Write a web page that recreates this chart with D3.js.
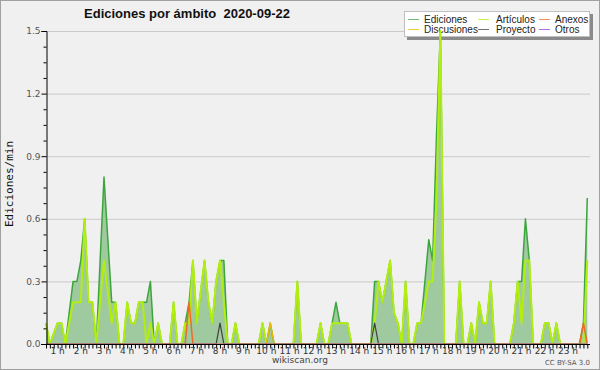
<!DOCTYPE html>
<html>
<head>
<meta charset="utf-8">
<script src="https://cdn.jsdelivr.net/npm/d3@7"></script>
<style>
  body { margin: 0; background: #f0f0f0; }
  svg { display: block; font-family: "DejaVu Sans", sans-serif; }
</style>
</head>
<body>
<svg id="chart"></svg>
<script>
// Edits per minute, one value per 10-minute slot (slot 0 = start of the day)
const ediciones = [
  0.1, 0, 0.05, 0.1, 0.1, 0, 0.15, 0.3, 0.3, 0.4,
  0.6, 0.2, 0.2, 0, 0.4, 0.8, 0.5, 0.2, 0.2, 0,
  0, 0.2, 0.1, 0.1, 0.2, 0.2, 0.2, 0.3, 0, 0.1,
  0, 0, 0, 0.2, 0, 0, 0.1, 0.2, 0.4, 0.1,
  0.25, 0.4, 0.2, 0.1, 0.3, 0.4, 0.4, 0, 0, 0.1,
  0, 0, 0, 0, 0, 0, 0.1, 0, 0.1, 0,
  0, 0, 0, 0, 0, 0.3, 0, 0, 0, 0,
  0, 0.1, 0, 0, 0.1, 0.2, 0.1, 0.1, 0.1, 0,
  0, 0, 0, 0, 0, 0.3, 0.3, 0.2, 0.3, 0.4,
  0.15, 0.1, 0, 0.3, 0, 0, 0.1, 0.1, 0.3, 0.5,
  0.4, 1.0, 1.5, 0, 0, 0, 0, 0.3, 0, 0,
  0.1, 0, 0.2, 0.1, 0.1, 0.3, 0, 0, 0, 0,
  0, 0.1, 0.3, 0.3, 0.6, 0.4, 0, 0, 0, 0.1,
  0.1, 0, 0.1, 0, 0, 0, 0, 0, 0, 0.1,
  0.7
];
const articulos = [
  0.1, 0, 0.05, 0.1, 0.1, 0, 0.1, 0.2, 0.2, 0.2,
  0.6, 0.2, 0.2, 0, 0.2, 0.4, 0.25, 0.1, 0.2, 0,
  0, 0.2, 0.1, 0.1, 0.2, 0.2, 0, 0.1, 0, 0.1,
  0, 0, 0, 0.2, 0, 0, 0.1, 0.1, 0.4, 0.1,
  0.25, 0.4, 0.2, 0.1, 0.3, 0.4, 0.2, 0, 0, 0.1,
  0, 0, 0, 0, 0, 0, 0.1, 0, 0, 0,
  0, 0, 0, 0, 0, 0.3, 0, 0, 0, 0,
  0, 0.1, 0, 0, 0.1, 0.1, 0.1, 0.1, 0.1, 0,
  0, 0, 0, 0, 0, 0.1, 0.3, 0.2, 0.3, 0.4,
  0.15, 0.1, 0, 0.3, 0, 0, 0.1, 0.1, 0.2, 0.3,
  0.3, 0.7, 1.5, 0, 0, 0, 0, 0.3, 0, 0,
  0.1, 0, 0.2, 0.1, 0.1, 0.3, 0, 0, 0, 0,
  0, 0.1, 0.3, 0.1, 0.4, 0.4, 0, 0, 0, 0.1,
  0.1, 0, 0.1, 0, 0, 0, 0, 0, 0, 0,
  0.4
];
const anexos = [
  0, 0, 0, 0, 0, 0, 0, 0, 0, 0,
  0, 0, 0, 0, 0, 0, 0, 0, 0, 0,
  0, 0, 0, 0, 0, 0, 0, 0, 0, 0,
  0, 0, 0, 0, 0, 0, 0, 0.2, 0, 0,
  0, 0, 0, 0, 0, 0, 0, 0, 0, 0,
  0, 0, 0, 0, 0, 0, 0, 0, 0, 0,
  0, 0, 0, 0, 0, 0, 0, 0, 0, 0,
  0, 0, 0, 0, 0, 0, 0, 0, 0, 0,
  0, 0, 0, 0, 0, 0, 0, 0, 0, 0,
  0, 0, 0, 0, 0, 0, 0, 0, 0, 0,
  0, 0, 0, 0, 0, 0, 0, 0, 0, 0,
  0, 0, 0, 0, 0, 0, 0, 0, 0, 0,
  0, 0, 0, 0, 0, 0, 0, 0, 0, 0,
  0, 0, 0, 0, 0, 0, 0, 0, 0, 0.1,
  0
];
const discusiones = [
  0, 0, 0, 0, 0, 0, 0, 0, 0, 0,
  0, 0, 0, 0, 0, 0, 0, 0, 0, 0,
  0, 0, 0, 0, 0, 0, 0, 0, 0, 0,
  0, 0, 0, 0, 0, 0, 0, 0, 0, 0,
  0, 0, 0, 0, 0, 0, 0, 0, 0, 0,
  0, 0, 0, 0, 0, 0, 0, 0, 0.1, 0,
  0, 0, 0, 0, 0, 0, 0, 0, 0, 0,
  0, 0, 0, 0, 0, 0, 0, 0, 0, 0,
  0, 0, 0, 0, 0, 0, 0, 0, 0, 0,
  0, 0, 0, 0, 0, 0, 0, 0, 0, 0,
  0, 0, 0, 0, 0, 0, 0, 0, 0, 0,
  0, 0, 0, 0, 0, 0, 0, 0, 0, 0,
  0, 0, 0, 0, 0, 0, 0, 0, 0, 0,
  0, 0, 0, 0, 0, 0, 0, 0, 0, 0,
  0
];
const proyecto = [
  0, 0, 0, 0, 0, 0, 0, 0, 0, 0,
  0, 0, 0, 0, 0, 0, 0, 0, 0, 0,
  0, 0, 0, 0, 0, 0, 0, 0, 0, 0,
  0, 0, 0, 0, 0, 0, 0, 0, 0, 0,
  0, 0, 0, 0, 0, 0.1, 0, 0, 0, 0,
  0, 0, 0, 0, 0, 0, 0, 0, 0, 0,
  0, 0, 0, 0, 0, 0, 0, 0, 0, 0,
  0, 0, 0, 0, 0, 0, 0, 0, 0, 0,
  0, 0, 0, 0, 0, 0.1, 0, 0, 0, 0,
  0, 0, 0, 0, 0, 0, 0, 0, 0, 0,
  0, 0, 0, 0, 0, 0, 0, 0, 0, 0,
  0, 0, 0, 0, 0, 0, 0, 0, 0, 0,
  0, 0, 0, 0, 0, 0, 0, 0, 0, 0,
  0, 0, 0, 0, 0, 0, 0, 0, 0, 0,
  0
];
const otros = [
  0, 0, 0, 0, 0, 0, 0, 0, 0, 0,
  0, 0, 0, 0, 0, 0, 0, 0, 0, 0,
  0, 0, 0, 0, 0, 0, 0, 0, 0, 0,
  0, 0, 0, 0, 0, 0, 0, 0, 0, 0,
  0, 0, 0, 0, 0, 0, 0, 0, 0, 0,
  0, 0, 0, 0, 0, 0, 0, 0, 0, 0,
  0, 0, 0, 0, 0, 0, 0, 0, 0, 0,
  0, 0, 0, 0, 0, 0, 0, 0, 0, 0,
  0, 0, 0, 0, 0, 0, 0, 0, 0, 0,
  0, 0, 0, 0, 0, 0, 0, 0, 0, 0,
  0, 0, 0, 0, 0, 0, 0, 0, 0, 0,
  0, 0, 0, 0, 0, 0, 0, 0, 0, 0,
  0, 0, 0, 0, 0, 0, 0, 0, 0, 0,
  0, 0, 0, 0, 0, 0, 0, 0, 0, 0,
  0
];

const hourLabels = ["1 h", "2 h", "3 h", "4 h", "5 h", "6 h", "7 h", "8 h", "9 h", "10 h",
  "11 h", "12 h", "13 h", "14 h", "15 h", "16 h", "17 h", "18 h", "19 h", "20 h",
  "21 h", "22 h", "23 h"];
const yMajor = [0, 0.3, 0.6, 0.9, 1.2, 1.5];
const yMinor = [0.075, 0.15, 0.225, 0.375, 0.45, 0.525, 0.675, 0.75, 0.825,
  0.975, 1.05, 1.125, 1.275, 1.35, 1.425];

const seriesNames = ["Ediciones", "Artículos", "Anexos", "Discusiones", "Proyecto", "Otros"];
const seriesColors = ["#3ca63c", "#b2ee10", "#ef6a24", "#efb800", "#404040", "#9040e0"];

const width = 600;
const height = 370;

const svg = d3.select("#chart")
  .attr("width", width)
  .attr("height", height);

svg.append("rect")
  .attr("x", 0.5).attr("y", 0.5)
  .attr("width", width - 1).attr("height", height - 1)
  .attr("fill", "#f0f0f0")
  .attr("stroke", "#a0a0a0");

// Scales: one step per 10 minutes
const x = d3.scaleLinear().domain([0, 140.7]).range([46, 590]);
const y = d3.scaleLinear().domain([0, 1.5]).range([344, 31]);

// Grid
svg.append("g")
  .selectAll("line")
  .data(yMajor.slice(1))
  .enter()
  .append("line")
  .attr("x1", x(0)).attr("x2", x(140.7))
  .attr("y1", d => y(d) + 0.5).attr("y2", d => y(d) + 0.5)
  .attr("stroke", "#cacaca");

// Legend (drawn before the data, the peak runs over it)
const legend = svg.append("g").attr("transform", "translate(404,11)");
legend.append("rect")
  .attr("x", 3).attr("y", 3).attr("width", 186).attr("height", 26)
  .attr("fill", "#8a8a8a");
legend.append("rect")
  .attr("x", 0.5).attr("y", 0.5).attr("width", 185).attr("height", 25)
  .attr("fill", "#ffffff")
  .attr("stroke", "#c0c0c0");

const legendCols = [4, 74, 135];
const legendItems = legend.selectAll(".item")
  .data(seriesNames)
  .enter()
  .append("g")
  .attr("class", "item")
  .attr("transform", (d, i) => `translate(${legendCols[i % 3]},${i < 3 ? 8 : 18})`);

legendItems.append("line")
  .attr("x1", 0).attr("x2", 11)
  .attr("y1", 0.5).attr("y2", 0.5)
  .attr("stroke", (d, i) => seriesColors[i])
  .attr("stroke-opacity", 0.75);

legendItems.append("text")
  .attr("x", (d, i) => i % 3 === 1 ? 18 : 16)
  .attr("y", 4)
  .attr("font-size", "10px")
  .attr("font-family", "Liberation Sans, sans-serif")
  .attr("fill", "#222")
  .text(d => d);

// Clip the data just above the x axis
svg.append("clipPath")
  .attr("id", "plotClip")
  .append("rect")
  .attr("x", 44).attr("y", 20)
  .attr("width", 548).attr("height", 323.6);

const plot = svg.append("g").attr("clip-path", "url(#plotClip)");

plot.append("path")
  .datum(ediciones)
  .attr("fill", "#9fc99f")
  .attr("d", d3.area()
    .x((d, i) => x(i))
    .y0(y(0))
    .y1(d => y(d)));

const line = d3.line()
  .x((d, i) => x(i))
  .y(d => y(d));

const allSeries = [ediciones, articulos, discusiones, anexos, proyecto, otros];
const drawColors = [seriesColors[0], seriesColors[1], seriesColors[3], seriesColors[2], seriesColors[4], seriesColors[5]];
const drawWidths = [1.5, 2, 1.5, 1.5, 1.2, 1.2];

plot.selectAll(".series")
  .data(allSeries)
  .enter()
  .append("path")
  .attr("class", "series")
  .attr("fill", "none")
  .attr("stroke", (d, i) => drawColors[i])
  .attr("stroke-width", (d, i) => drawWidths[i])
  .attr("stroke-linejoin", "round")
  .attr("d", d => line(d));

// Y axis
const yAxis = svg.append("g")
  .attr("transform", "translate(46.5,0)")
  .call(d3.axisLeft(y)
    .tickValues(yMajor)
    .tickFormat(d3.format(".1f"))
    .tickSize(5)
    .tickPadding(1));
yAxis.select(".domain").attr("stroke", "#000");
yAxis.selectAll(".tick line").attr("stroke", "#000");
yAxis.selectAll(".tick text")
  .attr("font-size", "9px")
  .attr("font-family", "DejaVu Sans, sans-serif")
  .attr("fill", "#555");

svg.append("g")
  .attr("transform", "translate(46.5,0)")
  .call(d3.axisLeft(y).tickValues(yMinor).tickSize(3).tickFormat(""))
  .call(g => g.select(".domain").remove())
  .selectAll(".tick line").attr("stroke", "#000");

// X axis
const xAxis = svg.append("g")
  .attr("transform", "translate(0,344.5)")
  .call(d3.axisBottom(x)
    .tickValues(d3.range(0, 141))
    .tickSize(4)
    .tickFormat(""));
xAxis.select(".domain").attr("stroke", "#000").attr("d", `M41,0H${x(140.7)}`);
xAxis.selectAll(".tick line").attr("stroke", "#000");

svg.append("g")
  .selectAll("text")
  .data(hourLabels)
  .enter()
  .append("text")
  .attr("x", (d, i) => x(6 * (i + 1) - 3))
  .attr("y", 354)
  .attr("text-anchor", "middle")
  .attr("font-size", "9px")
  .attr("fill", "#333")
  .text(d => d);

// Titles and credits
svg.append("text")
  .attr("x", 187)
  .attr("y", 18)
  .attr("text-anchor", "middle")
  .attr("font-size", "13px")
  .attr("font-weight", "bold")
  .attr("font-family", "Liberation Sans, sans-serif")
  .attr("fill", "#111")
  .attr("xml:space", "preserve")
  .style("white-space", "pre")
  .text("Ediciones por ámbito  2020-09-22");

svg.append("text")
  .attr("transform", "translate(13,184) rotate(-90)")
  .attr("text-anchor", "middle")
  .attr("font-size", "11px")
  .attr("font-family", "DejaVu Sans Mono, monospace")
  .attr("fill", "#111")
  .text("Ediciones/min");

svg.append("text")
  .attr("x", 300)
  .attr("y", 363)
  .attr("text-anchor", "middle")
  .attr("font-size", "9px")
  .attr("fill", "#444")
  .text("wikiscan.org");

svg.append("text")
  .attr("x", 590)
  .attr("y", 365)
  .attr("text-anchor", "end")
  .attr("font-size", "7px")
  .attr("fill", "#555")
  .text("CC BY-SA 3.0");
</script>
</body>
</html>
